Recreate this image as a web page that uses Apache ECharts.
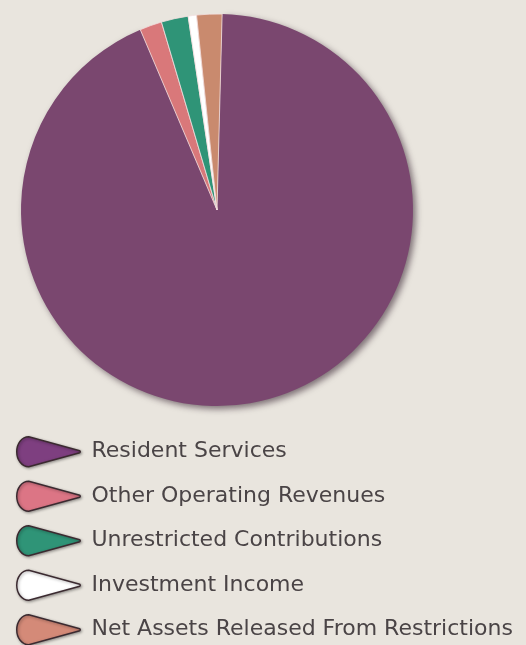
<!DOCTYPE html>
<html>
<head>
<meta charset="utf-8">
<script src="https://cdn.jsdelivr.net/npm/echarts@6/dist/echarts.min.js"></script>
<style>
html,body{margin:0;padding:0;background:#e9e5de;}
#c{width:526px;height:645px;}
</style>
</head>
<body>
<div id="c"></div>
<script>
const categories = ["Resident Services","Other Operating Revenues","Unrestricted Contributions","Investment Income","Net Assets Released From Restrictions"];
const values = [93.2, 1.83, 2.22, 0.69, 2.08];
const sliceColors = ["#7a476f","#d9787a","#2f9477","#ffffff","#c98a6e"];
const legendColors = ["#7e3f80","#dc7585","#2f9477","#ffffff","#d48a78"];

const chart = echarts.init(document.getElementById('c'), null, {renderer:'canvas'});
const icon = 'path://M12,0 C5,0 0,7 0,15 C0,23 5,30 12,30 L63,16 Q64,15 63,14 Z';
const data = categories.map((n,i)=>({
  name:n, value:values[i],
  itemStyle: i===0 ? {color:sliceColors[i], shadowBlur:6, shadowColor:'rgba(40,20,35,0.55)', shadowOffsetX:3, shadowOffsetY:3}
                   : {color:sliceColors[i], borderColor:'#f2dfe0', borderWidth:0.8}
}));
chart.setOption({
  backgroundColor:'#e9e5de',
  animation:false,
  legend:{
    orient:'vertical', left:16, top:436, height:400, padding:0,
    itemWidth:64, itemHeight:30, itemGap:13,
    icon: icon,
    data: categories.map((n,i)=>({name:n, itemStyle:{color:legendColors[i]}})),
    itemStyle:{borderColor:'#3b2a30', borderWidth:1.5, shadowBlur:3, shadowColor:'rgba(0,0,0,0.35)', shadowOffsetX:1, shadowOffsetY:1},
    textStyle:{fontFamily:'DejaVu Sans', fontSize:22, color:'#4a4446', padding:[0,0,0,6]},
    selectedMode:false
  },
  series:[{
    type:'pie', center:[217,210], radius:[0,196],
    startAngle:88.5, clockwise:true,
    label:{show:false}, labelLine:{show:false},
    emphasis:{disabled:true},
    silent:true,
    data:data
  }]
});
</script>
</body>
</html>
